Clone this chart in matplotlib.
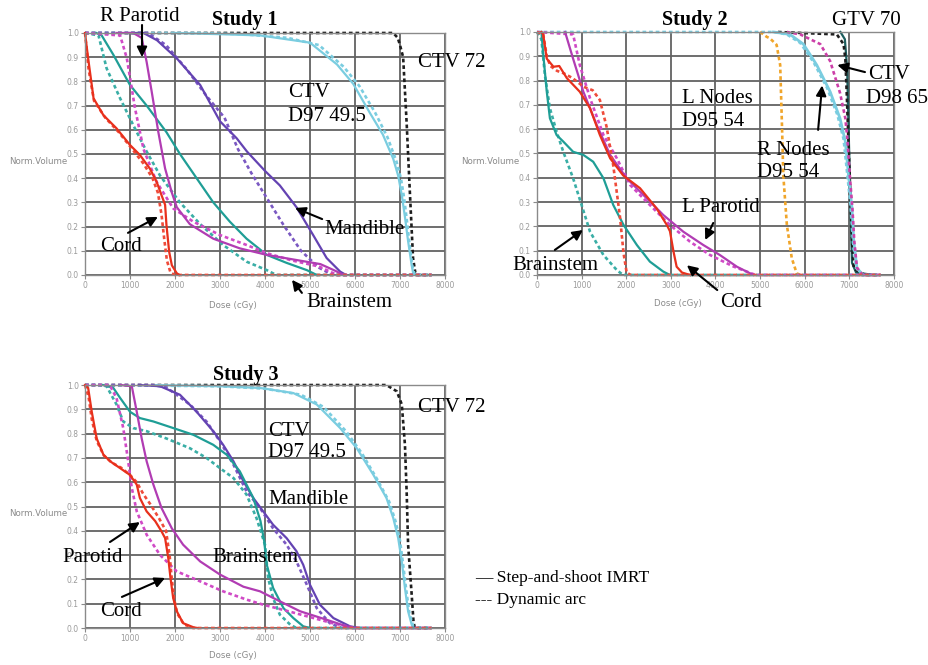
"""
DVH comparison
==============

Dose volume histograms for three studies, step-and-shoot IMRT versus
dynamic arc.
"""
import matplotlib
matplotlib.use('Agg')
import matplotlib.pyplot as plt

###############################################################################
# Curves: (dose in cGy, normalised volume)

# Study 1
s1_ctv72_arc = ([0, 6850, 6950, 7000, 7070, 7150, 7220, 7290, 7340, 7400, 7700],
                [1, 1, 0.98, 0.95, 0.9, 0.62, 0.34, 0.07, 0.01, 0, 0])
s1_ctv49_imrt = ([2000, 3000, 3890, 5000, 5600, 5960, 6330, 6620, 6850, 6960,
                  7040, 7110, 7180, 7260, 7300],
                 [1, 0.995, 0.99, 0.96, 0.87, 0.79, 0.67, 0.58, 0.48, 0.41,
                  0.33, 0.24, 0.14, 0.04, 0])
s1_ctv49_arc = ([0, 2500, 3500, 4500, 5200, 5750, 6100, 6450, 6720, 6920, 7020,
                 7090, 7150, 7210, 7280, 7330, 7700],
                [1, 1, 0.995, 0.98, 0.95, 0.86, 0.78, 0.67, 0.57, 0.47, 0.40,
                 0.32, 0.23, 0.13, 0.03, 0, 0])
s1_mand_imrt = ([1000, 1300, 1600, 2040, 2560, 3000, 3370, 3600, 4000, 4330,
                 4700, 5070, 5370, 5670, 5800],
                [1, 1, 0.97, 0.895, 0.785, 0.635, 0.565, 0.51, 0.43, 0.37,
                 0.28, 0.165, 0.07, 0.014, 0])
s1_mand_arc = ([0, 1400, 1800, 2260, 2700, 3100, 3400, 3700, 4000, 4400, 4800,
                5200, 5500, 7700],
               [1, 1, 0.95, 0.85, 0.74, 0.65, 0.52, 0.42, 0.33, 0.21, 0.10,
                0.03, 0, 0])
s1_par_imrt = ([700, 1070, 1260, 1370, 1480, 1630, 1780, 1930, 2040, 2330,
                2850, 3440, 4040, 4600, 5230, 5530, 5750],
               [1, 1, 0.98, 0.88, 0.76, 0.59, 0.44, 0.34, 0.28, 0.21, 0.15,
                0.11, 0.083, 0.065, 0.045, 0.02, 0])
s1_par_arc = ([0, 780, 930, 1110, 1300, 1590, 1960, 2410, 3000, 3590, 4040,
               4600, 5200, 5600, 7700],
              [1, 0.99, 0.895, 0.69, 0.52, 0.385, 0.275, 0.22, 0.165, 0.124,
               0.09, 0.06, 0.035, 0, 0])
s1_brain_imrt = ([250, 370, 630, 1000, 1370, 1810, 2110, 2480, 2850, 3220,
                  3590, 4040, 4480, 4930, 5150],
                 [1, 0.99, 0.91, 0.785, 0.70, 0.59, 0.50, 0.40, 0.30, 0.22,
                  0.15, 0.083, 0.05, 0.02, 0])
s1_brain_arc = ([0, 300, 480, 780, 1070, 1370, 1670, 2110, 2560, 3070, 3590,
                 4040, 4250, 7700],
                [1, 0.99, 0.854, 0.73, 0.62, 0.51, 0.41, 0.30, 0.21, 0.124,
                 0.055, 0.02, 0, 0])
s1_cord_imrt = ([0, 70, 190, 410, 700, 1000, 1220, 1440, 1590, 1700, 1780,
                 1810, 1870, 1930, 2040, 2100],
                [1, 0.895, 0.73, 0.66, 0.606, 0.537, 0.496, 0.44, 0.386, 0.33,
                 0.29, 0.207, 0.096, 0.04, 0.007, 0])
s1_cord_arc = ([0, 80, 200, 450, 750, 1050, 1300, 1500, 1620, 1700, 1760, 1820,
                1900, 2000, 7700],
               [1, 0.85, 0.72, 0.65, 0.59, 0.52, 0.46, 0.40, 0.34, 0.25, 0.15,
                0.06, 0.01, 0, 0])

# Study 2
s2_gtv_arc = ([5400, 6720, 6870, 6910, 6940, 6980, 7020, 7060, 7100, 7240,
               7400, 7700],
              [1, 0.99, 0.95, 0.89, 0.754, 0.549, 0.343, 0.137, 0.028, 0.007,
               0, 0])
s2_gtv_imrt = ([6800, 6900, 6950, 6990, 7030, 7060, 7150, 7550],
               [1, 0.97, 0.85, 0.55, 0.25, 0.05, 0.01, 0])
s2_ctv65_arc = ([5600, 5900, 6350, 6570, 6790, 6910, 6960, 7010, 7070, 7110,
                 7170, 7300, 7700],
                [1, 0.99, 0.95, 0.88, 0.75, 0.645, 0.55, 0.41, 0.27, 0.14,
                 0.03, 0, 0])
s2_rnodes_imrt = ([5300, 5670, 5970, 6270, 6570, 6790, 6910, 6980, 7060, 7100,
                   7170, 7310],
                  [1, 0.99, 0.95, 0.864, 0.754, 0.645, 0.549, 0.41, 0.274,
                   0.137, 0.028, 0])
s2_rnodes_arc = ([0, 5300, 5600, 5900, 6200, 6500, 6730, 6870, 6950, 7030,
                  7080, 7150, 7280, 7700],
                 [1, 1, 0.99, 0.955, 0.875, 0.77, 0.66, 0.56, 0.42, 0.28, 0.14,
                  0.03, 0, 0])
s2_lnodes = ([5000, 5150, 5220, 5370, 5450, 5490, 5520, 5600, 5710, 5820, 5900],
             [1, 0.98, 0.974, 0.947, 0.864, 0.617, 0.41, 0.206, 0.069, 0.007, 0])
s2_par_imrt = ([630, 810, 1040, 1340, 1640, 2010, 2380, 2830, 3280, 3730, 4100,
                4480, 4850],
               [1, 0.89, 0.754, 0.617, 0.494, 0.398, 0.33, 0.247, 0.178, 0.123,
                0.082, 0.034, 0])
s2_par_arc = ([0, 810, 960, 1190, 1490, 1790, 2090, 2530, 2980, 3430, 3880,
               4400, 4900, 7700],
              [1, 0.99, 0.864, 0.727, 0.576, 0.48, 0.37, 0.288, 0.206, 0.137,
               0.082, 0.035, 0, 0])
s2_cord_imrt = ([100, 140, 220, 370, 500, 670, 960, 1190, 1410, 1640, 1930,
                 2310, 2680, 2910, 2980, 3060, 3130, 3250, 3430],
                [1, 0.99, 0.89, 0.857, 0.86, 0.81, 0.754, 0.686, 0.576, 0.48,
                 0.41, 0.357, 0.274, 0.206, 0.18, 0.096, 0.034, 0.01, 0])
s2_cord_arc = ([0, 140, 220, 300, 450, 600, 800, 1040, 1250, 1410, 1560, 1710,
                1860, 1940, 2010, 2100, 7700],
               [1, 0.99, 0.9, 0.86, 0.84, 0.83, 0.81, 0.775, 0.76, 0.72, 0.61,
                0.45, 0.24, 0.09, 0.01, 0, 0])
s2_brain_imrt = ([100, 140, 220, 290, 440, 590, 810, 1040, 1260, 1490, 1710,
                  1940, 2240, 2530, 2830, 2980],
                 [1, 0.91, 0.754, 0.645, 0.576, 0.549, 0.507, 0.494, 0.466,
                  0.398, 0.288, 0.206, 0.123, 0.055, 0.014, 0])
s2_brain_arc = ([0, 100, 180, 290, 440, 590, 810, 1000, 1190, 1490, 1790, 1930,
                 7700],
                [1, 0.97, 0.82, 0.686, 0.59, 0.507, 0.398, 0.288, 0.178, 0.082,
                 0.02, 0, 0])

# Study 3
s3_ctv72_arc = ([0, 6700, 6930, 7040, 7110, 7150, 7180, 7260, 7300, 7330, 7700],
                [1, 1, 0.974, 0.92, 0.754, 0.549, 0.343, 0.137, 0.027, 0, 0])
s3_ctv49_imrt = ([1500, 3000, 3890, 4630, 5150, 5670, 6040, 6410, 6700, 6850,
                  6960, 7040, 7110, 7180, 7260, 7300],
                 [1, 0.995, 0.988, 0.967, 0.92, 0.823, 0.74, 0.63, 0.535,
                  0.453, 0.37, 0.274, 0.165, 0.069, 0.014, 0])
s3_ctv49_arc = ([0, 3000, 4000, 4800, 5300, 5800, 6150, 6500, 6760, 6900, 7000,
                 7070, 7140, 7210, 7290, 7330, 7700],
                [1, 0.995, 0.985, 0.96, 0.91, 0.81, 0.72, 0.61, 0.52, 0.44,
                 0.36, 0.26, 0.155, 0.06, 0.01, 0, 0])
s3_mand_imrt = ([1200, 1670, 2110, 2480, 2850, 3070, 3300, 3520, 3740, 3960,
                 4180, 4480, 4700, 4850, 5000, 5220, 5520, 5890, 6100],
                [1, 0.995, 0.96, 0.89, 0.81, 0.754, 0.686, 0.604, 0.535, 0.48,
                 0.425, 0.37, 0.316, 0.26, 0.178, 0.096, 0.041, 0.007, 0])
s3_mand_arc = ([0, 1500, 1810, 2330, 2700, 3000, 3300, 3590, 3890, 4180, 4480,
                4700, 4930, 5150, 5440, 5700, 7700],
               [1, 1, 0.99, 0.92, 0.85, 0.768, 0.672, 0.562, 0.494, 0.41,
                0.343, 0.274, 0.178, 0.082, 0.02, 0, 0])
s3_brain_imrt = ([400, 630, 780, 1000, 1220, 1520, 1960, 2410, 2850, 3150,
                  3440, 3740, 3900, 3980, 4040, 4180, 4410, 4630, 4850, 5000],
                 [1, 0.988, 0.947, 0.89, 0.864, 0.85, 0.823, 0.795, 0.754,
                  0.713, 0.645, 0.535, 0.44, 0.36, 0.26, 0.165, 0.082, 0.041,
                  0.007, 0])
s3_brain_arc = ([0, 300, 480, 700, 850, 1070, 1370, 1810, 2330, 2700, 3000,
                 3300, 3590, 3810, 4000, 4070, 4180, 4330, 4560, 4700, 7700],
                [1, 1, 0.995, 0.92, 0.85, 0.823, 0.81, 0.78, 0.74, 0.70, 0.658,
                 0.617, 0.549, 0.453, 0.343, 0.206, 0.123, 0.055, 0.014, 0, 0])
s3_par_imrt = ([800, 1040, 1150, 1260, 1370, 1520, 1700, 1930, 2180, 2560,
                3000, 3520, 3890, 4330, 4780, 5370, 5810, 6000],
               [1, 0.995, 0.89, 0.78, 0.686, 0.59, 0.494, 0.41, 0.343, 0.274,
                0.22, 0.17, 0.151, 0.11, 0.069, 0.034, 0.007, 0])
s3_par_arc = ([0, 550, 700, 850, 960, 1040, 1150, 1370, 1670, 2040, 2560, 3070,
               3590, 3960, 4500, 5000, 5500, 6000, 7700],
              [1, 1, 0.947, 0.823, 0.686, 0.576, 0.48, 0.384, 0.30, 0.233,
               0.192, 0.151, 0.117, 0.096, 0.07, 0.045, 0.02, 0, 0])
s3_cord_imrt = ([0, 70, 150, 260, 410, 560, 780, 1000, 1150, 1220, 1370, 1560,
                 1700, 1780, 1850, 1900, 1960, 2040, 2180, 2410, 2500],
                [1, 0.988, 0.89, 0.78, 0.713, 0.686, 0.658, 0.63, 0.59, 0.535,
                 0.48, 0.44, 0.398, 0.37, 0.288, 0.206, 0.123, 0.069, 0.02,
                 0.003, 0])
s3_cord_arc = ([0, 80, 150, 260, 420, 600, 800, 1000, 1150, 1300, 1450, 1650,
                1800, 1880, 1930, 1980, 2050, 2200, 2400, 7700],
               [1, 0.95, 0.86, 0.77, 0.71, 0.68, 0.66, 0.63, 0.60, 0.55, 0.51,
                0.45, 0.40, 0.30, 0.20, 0.12, 0.06, 0.015, 0, 0])

dose_ticks = [0, 1000, 2000, 3000, 4000, 5000, 6000, 7000, 8000]
vol_ticks = [0.0, 0.1, 0.2, 0.3, 0.4, 0.5, 0.6, 0.7, 0.8, 0.9, 1.0]

###############################################################################
# Styles
red, red_d = '#e8301c', '#ef4b3a'
mag, mag_d = '#b13cb3', '#d04ac6'
teal, teal_d = '#1f9e96', '#3aaea6'
purp, purp_d = '#6443b2', '#7a58c2'
ltblue = '#7acde0'
blk = '#1e1e1e'
orange = '#f0a52a'
pink = '#cc3fa8'
dark_teal = '#1d5e5e'

serif = 'Liberation Serif'
ann_size = 15
dash = (0, (1.4, 1.1))

fig = plt.figure(figsize=(9.29, 6.65), dpi=100)


def setup(ax):
    ax.set_xlim(0, 8000)
    ax.set_ylim(0, 1)
    ax.set_xticks(dose_ticks)
    ax.set_yticks(vol_ticks)
    ax.set_yticklabels(['%.1f' % v for v in vol_ticks])
    ax.grid(True, color='#626262', lw=1.3)
    ax.set_axisbelow(True)
    ax.tick_params(labelsize=5.5, labelcolor='#9a9a9a', color='#8a8a8a',
                   length=3, pad=1.5)
    for sp in ax.spines.values():
        sp.set_color('#8a8a8a')
        sp.set_linewidth(1.0)


def curve(ax, c, color, arc=False, lw=1.6):
    if arc:
        ax.plot(c[0], c[1], color=color, lw=lw + 0.3, ls=dash, clip_on=False)
    else:
        ax.plot(c[0], c[1], color=color, lw=lw, clip_on=False)


def label(ax, x, y, s, **kw):
    ax.text(x, y, s, family=serif, fontsize=ann_size, ha='left', va='center',
            clip_on=False, **kw)


def arrow(ax, tail, tip):
    ax.annotate('', xy=tip, xytext=tail, annotation_clip=False,
                arrowprops=dict(arrowstyle='-|>,head_length=0.6,head_width=0.3',
                                color='black', lw=1.5, shrinkA=0, shrinkB=0))


ax1 = fig.add_axes([0.0915, 0.5865, 0.3875, 0.3639])
ax2 = fig.add_axes([0.578, 0.5865, 0.3843, 0.3654])
ax3 = fig.add_axes([0.0915, 0.0556, 0.3875, 0.3654])
for ax in (ax1, ax2, ax3):
    setup(ax)

###############################################################################
# Study 1
curve(ax1, s1_ctv72_arc, blk, arc=True)
curve(ax1, s1_ctv49_arc, ltblue, arc=True)
curve(ax1, s1_ctv49_imrt, ltblue)
curve(ax1, s1_mand_arc, purp_d, arc=True)
curve(ax1, s1_mand_imrt, purp)
curve(ax1, s1_brain_arc, teal_d, arc=True)
curve(ax1, s1_brain_imrt, teal)
curve(ax1, s1_par_arc, mag_d, arc=True)
curve(ax1, s1_par_imrt, mag)
curve(ax1, s1_cord_arc, red_d, arc=True)
curve(ax1, s1_cord_imrt, red)

ax1.text(3555, 1.055, 'Study 1', family=serif, fontsize=14.5,
         fontweight='bold', ha='center', va='center')
label(ax1, 333, 1.07, 'R Parotid')
arrow(ax1, (1267, 1.033), (1267, 0.90))
label(ax1, 7400, 0.88, 'CTV 72')
label(ax1, 4510, 0.752, 'CTV')
label(ax1, 4510, 0.653, 'D97 49.5')
label(ax1, 5330, 0.186, 'Mandible')
arrow(ax1, (5270, 0.231), (4670, 0.277))
label(ax1, 333, 0.116, 'Cord')
arrow(ax1, (955, 0.174), (1620, 0.24))
label(ax1, 4930, -0.112, 'Brainstem')
arrow(ax1, (4820, -0.074), (4600, -0.02))

###############################################################################
# Study 2
curve(ax2, s2_gtv_imrt, dark_teal)
curve(ax2, s2_gtv_arc, blk, arc=True)
curve(ax2, s2_rnodes_imrt, ltblue, lw=2.0)
curve(ax2, s2_rnodes_arc, ltblue, arc=True)
curve(ax2, s2_ctv65_arc, pink, arc=True)
curve(ax2, s2_lnodes, orange, arc=True)
curve(ax2, s2_brain_arc, teal_d, arc=True)
curve(ax2, s2_brain_imrt, teal)
curve(ax2, s2_par_arc, mag_d, arc=True)
curve(ax2, s2_par_imrt, mag)
curve(ax2, s2_cord_arc, red_d, arc=True)
curve(ax2, s2_cord_imrt, red)

ax2.text(3540, 1.049, 'Study 2', family=serif, fontsize=14.5,
         fontweight='bold', ha='center', va='center')
label(ax2, 6610, 1.049, 'GTV 70')
label(ax2, 7420, 0.823, 'CTV')
label(ax2, 7380, 0.728, 'D98 65')
arrow(ax2, (7350, 0.835), (6730, 0.864))
label(ax2, 3250, 0.728, 'L Nodes')
label(ax2, 3250, 0.63, 'D95 54')
label(ax2, 4930, 0.514, 'R Nodes')
label(ax2, 4930, 0.42, 'D95 54')
arrow(ax2, (6300, 0.597), (6390, 0.78))
label(ax2, 3250, 0.276, 'L Parotid')
arrow(ax2, (3950, 0.214), (3770, 0.144))
label(ax2, -540, 0.041, 'Brainstem')
arrow(ax2, (400, 0.103), (1030, 0.185))
label(ax2, 4100, -0.115, 'Cord')
arrow(ax2, (4040, -0.062), (3360, 0.04))

###############################################################################
# Study 3
curve(ax3, s3_ctv72_arc, blk, arc=True)
curve(ax3, s3_ctv49_arc, ltblue, arc=True)
curve(ax3, s3_ctv49_imrt, ltblue)
curve(ax3, s3_mand_arc, purp_d, arc=True)
curve(ax3, s3_mand_imrt, purp)
curve(ax3, s3_brain_arc, teal_d, arc=True)
curve(ax3, s3_brain_imrt, teal)
curve(ax3, s3_par_arc, mag_d, arc=True)
curve(ax3, s3_par_imrt, mag)
curve(ax3, s3_cord_arc, red_d, arc=True)
curve(ax3, s3_cord_imrt, red)

ax3.text(3580, 1.041, 'Study 3', family=serif, fontsize=14.5,
         fontweight='bold', ha='center', va='center')
label(ax3, 7400, 0.909, 'CTV 72')
label(ax3, 4070, 0.807, 'CTV')
label(ax3, 4070, 0.724, 'D97 49.5')
label(ax3, 4070, 0.527, 'Mandible')
label(ax3, 2840, 0.292, 'Brainstem')
label(ax3, -510, 0.292, 'Parotid')
arrow(ax3, (555, 0.354), (1220, 0.436))
label(ax3, 333, 0.066, 'Cord')
arrow(ax3, (820, 0.128), (1780, 0.206))

###############################################################################
# Axis labels and line-style key
small = dict(fontsize=6.2, color='#8a8a8a', ha='center', va='center')
for x, y in [(38, 162), (490, 162), (38, 513)]:
    fig.text(x / 929, 1 - y / 665, 'Norm.Volume', **small)
for x, y in [(233, 305), (678, 303), (233, 655)]:
    fig.text(x / 929, 1 - y / 665, 'Dose (cGy)', **small)

fig.text(475 / 929, 1 - 578 / 665, '\u2014 Step-and-shoot IMRT', family=serif,
         fontsize=12.5, ha='left', va='center')
fig.text(475 / 929, 1 - 600 / 665, '--- Dynamic arc', family=serif,
         fontsize=12.5, ha='left', va='center')

fig.savefig('out.png', dpi=100)
